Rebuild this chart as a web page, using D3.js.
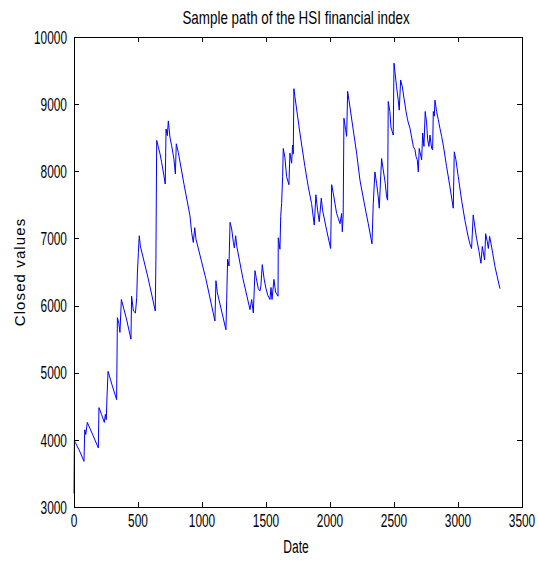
<!DOCTYPE html>
<html><head><meta charset="utf-8">
<script src="https://cdn.jsdelivr.net/npm/d3@7"></script>
<style>
html,body{margin:0;padding:0;background:#fff;}
svg{display:block;}
</style>
</head><body>
<div id="chart"></div>
<script>
const title = "Sample path of the HSI financial index";
const xLabel = "Date";
const yLabel = "Closed values";
const xTicks = [0,500,1000,1500,2000,2500,3000,3500];
const yTicks = [3000,4000,5000,6000,7000,8000,9000,10000];

const dates = [0,3,10,40,78,84,92,104,150,190,195,215,237,245,252,258,266,300,333,339,350,359,370,410,445,450,464,480,490,495,503,510,518,580,635,640,646,659,672,685,703,713,719,729,737,750,763,781,792,799,815,860,906,919,932,943,953,1030,1101,1109,1120,1187,1193,1200,1211,1219,1232,1245,1253,1263,1271,1320,1375,1388,1401,1414,1425,1440,1453,1460,1471,1485,1500,1515,1531,1539,1547,1562,1575,1594,1596,1609,1615,1622,1630,1635,1648,1661,1679,1687,1700,1708,1713,1718,1726,1765,1804,1830,1856,1877,1890,1903,1916,1932,1942,1974,2005,2013,2026,2052,2065,2078,2091,2096,2103,2109,2122,2130,2138,2148,2208,2234,2273,2299,2328,2338,2351,2364,2377,2385,2395,2403,2416,2432,2442,2450,2455,2468,2476,2486,2494,2500,2507,2520,2533,2541,2552,2565,2578,2594,2604,2612,2625,2651,2664,2672,2682,2690,2697,2708,2716,2724,2734,2744,2755,2763,2773,2781,2794,2802,2807,2815,2820,2833,2846,2859,2872,2885,2911,2937,2963,2971,2984,3002,3028,3054,3080,3093,3106,3119,3132,3145,3163,3179,3190,3203,3208,3216,3229,3237,3247,3263,3289,3328];
const closes = [3200,3990,3960,3850,3680,4150,4080,4260,4060,3880,4480,4380,4260,4380,4300,4650,5020,4800,4600,5820,5740,5600,6090,5800,5500,6140,5920,5890,6120,6470,6790,7040,6890,6400,5920,6690,8460,8360,8260,8130,7930,7810,8630,8530,8750,8500,8380,8180,7960,8410,8280,7800,7340,7090,6940,7160,6990,6400,5770,6370,6190,5640,6090,6690,6590,7240,7140,6940,6860,7040,6890,6400,5940,6090,5890,6520,6400,6250,6220,6290,6610,6400,6250,6150,6090,6270,6090,6390,6200,6140,7010,6840,7330,7520,7920,8340,8200,7920,7800,8270,8120,8390,8260,9230,9110,8570,8070,7770,7520,7200,7650,7420,7250,7600,7420,7120,6850,7800,7670,7370,7300,7220,7370,7100,7350,8790,8620,8520,9190,9060,8270,7870,7470,7220,6920,7520,7990,7820,7620,7450,7870,8190,8020,7820,7620,7570,9040,8890,8660,8590,8540,9610,9490,9260,9060,8910,9360,9260,9090,8890,8790,8720,8640,8370,8320,8220,8170,7990,8340,8240,8170,8570,8370,8890,8720,8470,8370,8540,8340,8320,8890,8820,9060,8890,8770,8640,8520,8390,8070,7770,7450,8290,8170,7920,7570,7270,7020,6920,6850,7350,7170,7000,6820,6630,6880,6730,6680,7070,6950,6850,7030,6870,6580,6250];

const W = 539, H = 562;
const m = {left:74, right:17, top:37, bottom:55};
const iw = W - m.left - m.right, ih = H - m.top - m.bottom;
const FONT = "Liberation Sans, Arial, sans-serif";

const svg = d3.select("#chart").append("svg").attr("width",W).attr("height",H);
const g = svg.append("g").attr("transform",`translate(${m.left},${m.top})`);

const x = d3.scaleLinear().domain([0,3500]).range([0,iw]);
const y = d3.scaleLinear().domain([3000,10000]).range([ih,0]);

const data = dates.map((d,i)=>({d, v:closes[i]}));

g.append("path").datum(data)
  .attr("fill","none").attr("stroke","#0000ff").attr("stroke-width",1)
  .attr("d", d3.line().x(p=>x(p.d)).y(p=>y(p.v)));

g.append("rect").attr("x",0).attr("y",0).attr("width",iw).attr("height",ih)
  .attr("fill","none").attr("stroke","#000").attr("stroke-width",1).attr("shape-rendering","crispEdges");

const tl = 5;
const xb = g.append("g").attr("transform",`translate(0,${ih})`)
  .call(d3.axisBottom(x).tickValues(xTicks).tickSizeInner(-tl).tickSizeOuter(0).tickFormat(""));
const xt = g.append("g")
  .call(d3.axisTop(x).tickValues(xTicks).tickSizeInner(-tl).tickSizeOuter(0).tickFormat(""));
const yl = g.append("g")
  .call(d3.axisLeft(y).tickValues(yTicks).tickSizeInner(-tl).tickSizeOuter(0).tickFormat(""));
const yr = g.append("g").attr("transform",`translate(${iw},0)`)
  .call(d3.axisRight(y).tickValues(yTicks).tickSizeInner(-tl).tickSizeOuter(0).tickFormat(""));
[xb,xt,yl,yr].forEach(a=>{
  a.select(".domain").remove();
  a.selectAll("line").attr("stroke","#000").attr("shape-rendering","crispEdges");
});

// condensed text helper
function ctext(parent, px, py, str, size, sx, anchor){
  return parent.append("text")
    .attr("transform",`translate(${px},${py}) scale(${sx},1)`)
    .attr("text-anchor",anchor).attr("font-family",FONT).attr("font-size",size)
    .attr("fill","#000").text(str);
}
const TS = 18.6, TSX = 0.64;
xTicks.forEach(t=> ctext(g, x(t), ih+20, String(t), TS, TSX, "middle"));
yTicks.forEach(t=> ctext(g, -7, y(t)+6.7, String(t), TS, TSX, "end"));

ctext(svg, m.left+iw/2 - 2, 24, title, 18, 0.745, "middle");
ctext(svg, m.left+iw/2 - 2, 553, xLabel, 18.6, 0.65, "middle");

svg.append("text").attr("transform",`translate(25,${m.top+ih/2}) rotate(-90)`)
  .attr("text-anchor","middle").attr("font-family",FONT)
  .attr("font-size",15).attr("letter-spacing",1.1).attr("fill","#000").text(yLabel);
</script>
</body></html>
